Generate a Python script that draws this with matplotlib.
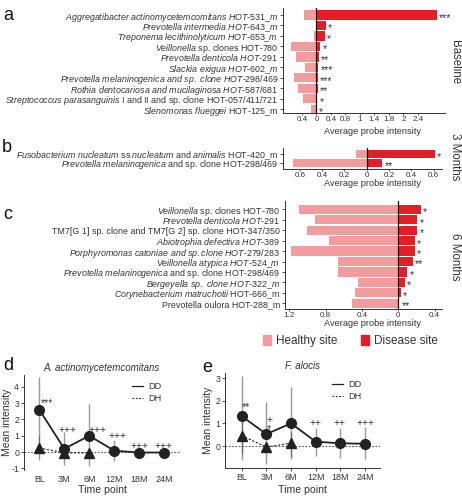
import matplotlib
matplotlib.use("Agg")
import matplotlib.pyplot as plt
from matplotlib.lines import Line2D
from matplotlib.patches import Patch
import numpy as np

plt.rcParams["font.family"] = ["Liberation Sans", "DejaVu Sans"]
plt.rcParams["mathtext.fontset"] = "custom"
plt.rcParams["mathtext.rm"] = "Liberation Sans"
plt.rcParams["mathtext.it"] = "Liberation Sans:italic"
plt.rcParams["mathtext.bf"] = "Liberation Sans:bold"

W, H = 462, 500
PINK = "#F39C9E"
RED = "#E31E26"
TXT = "#333333"

# ---- panel a : baseline
a_labels = ["*Aggregatibacter actinomycetemcomitans HOT-531_m*",
            "*Prevotella intermedia HOT-643_m*",
            "*Treponema lecithinolyticum HOT-653_m*",
            "*Veillonella* sp. clones HOT-780",
            "*Prevotella denticola HOT-291*",
            "*Slackia exigua HOT-602_m*",
            "*Prevotella melaninogenica and sp. clone HOT-298/469*",
            "*Rothia dentocariosa and mucilaginosa HOT-587/681*",
            "*Streptococcus parasanguinis* I and II and sp. clone HOT-057/411/721",
            "*Slenomonas flueggei* HOT-125_m"]
a_healthy = [-0.35, -0.01, -0.07, -0.71, -0.57, -0.32, -0.61, -0.51, -0.37, -0.16]
a_disease = [3.33, 0.25, 0.23, 0.11, 0.07, 0.05, 0.04, 0.03, 0.02, 0.01]
a_stars = ["***", "*", "*", "*", "**", "***", "***", "**", "*", "*"]
a_ticks = [-0.4, 0, 0.4, 0.8, 1.2, 1.6, 2.0, 2.4, 2.8]
a_ticklabels = ["0.4", "0", "0.4", "0.8", "1", "1.4", "1.8", "2", "2.4"]

# ---- panel b : 3 months
b_labels = ["*Fusobacterium nucleatum* ss *nucleatum* and *animalis* HOT-420_m",
            "*Prevotella melaninogenica* and sp. clone HOT-298/469"]
b_healthy = [-0.10, -0.66]
b_disease = [0.61, 0.14]
b_stars = ["*", "**"]
b_ticks = [-0.6, -0.4, -0.2, 0, 0.2, 0.4, 0.6]
b_ticklabels = ["0.6", "0.4", "0.2", "0", "0.2", "0.4", "0.6"]

# ---- panel c : 6 months
c_labels = ["*Veillonella* sp. clones HOT-780",
            "*Prevotella denticola HOT-291*",
            "TM7[G 1] sp. clone and TM7[G 2] sp. clone HOT-347/350",
            "*Abiotrophia defectiva HOT-389*",
            "*Porphyromonas catoniae and sp.clone HOT-279/283*",
            "*Veillonella atypica HOT-524_m*",
            "*Prevotella melaninogenica* and sp. clone HOT-298/469",
            "*Bergeyella sp. clone HOT-322_m*",
            "*Corynebacterium matruchotii* HOT-666_m",
            "Prevotella oulora HOT-288_m"]
c_healthy = [-1.09, -0.92, -1.01, -0.76, -1.18, -0.67, -0.67, -0.44, -0.48, -0.51]
c_disease = [0.25, 0.21, 0.21, 0.18, 0.18, 0.16, 0.10, 0.07, 0.03, 0.01]
c_stars = ["*", "*", "*", "*", "*", "**", "*", "*", "*", "**"]
c_ticks = [-1.2, -0.8, -0.4, 0, 0.4]
c_ticklabels = ["1.2", "0.8", "0.4", "0", "0.4"]

# ---- panels d, e : time course
timepoints = ["BL", "3M", "6M", "12M", "18M", "24M"]

d_dd = [2.6, 0.2, 1.0, 0.08, -0.03, -0.03]
d_dd_lo = [-0.5, -0.8, -0.85, -0.55, -0.03, -0.03]
d_dd_hi = [4.6, 1.25, 2.95, 0.75, -0.03, -0.03]
d_dh = [0.25, -0.05, -0.05]
d_dh_lo = [0.25, -0.05, -0.05]
d_dh_hi = [1.0, -0.05, -0.05]
d_marks = ["***", "+++", "+++", "+++", "+++", "+++"]
d_mark_x = [0.3, 1.12, 2.32, 3.14, 4.0, 4.96]
d_mark_y = [2.99, 1.35, 1.35, 0.96, 0.4, 0.4]

e_dd = [1.32, 0.53, 1.0, 0.19, 0.12, 0.1]
e_dd_lo = [-0.6, -0.8, -0.56, -0.43, -0.52, -0.57]
e_dd_hi = [3.1, 1.93, 2.6, 0.78, 0.8, 0.85]
e_dh = [0.46, -0.05, 0.13]
e_dh_lo = [-0.35, -0.05, -0.5]
e_dh_hi = [1.4, -0.05, 0.63]
e_marks = ["**", "+", "*", "++", "++", "+++"]
e_mark_x = [0.16, 1.12, 1.08, 3.0, 3.98, 5.0]
e_mark_y = [1.74, 1.13, 0.74, 1.0, 1.0, 1.0]


def box(l, t, r, b):
    return fig.add_axes([l / W, 1 - b / H, (r - l) / W, (b - t) / H])


def pt(x, y):
    return (x / W, 1 - y / H)


def rich(s):
    out = ""
    for i, seg in enumerate(s.split("*")):
        if i % 2 == 0:
            out += seg
        else:
            parts = []
            for p in seg.split("-"):
                p = p.replace(" ", r"\ ").replace("_", r"\_")
                parts.append(r"$\mathit{" + p + "}$" if p else "")
            out += "-".join(parts)
    return out


def style(ax):
    for s in ["top", "right"]:
        ax.spines[s].set_visible(False)
    for s in ["left", "bottom"]:
        ax.spines[s].set_color(TXT)
        ax.spines[s].set_linewidth(0.7)
    ax.tick_params(length=2, width=0.6, color=TXT, labelcolor=TXT, pad=1.5)
    ax.tick_params(axis="x", length=1.5, pad=1)


def bars(ax, labels, healthy, disease, stars, ticks, ticklabels, xlim, ylim):
    y = np.arange(len(labels))
    ax.barh(y, healthy, height=0.88, color=PINK)
    ax.barh(y, disease, height=0.88, color=RED)
    ax.axvline(0, color="#1a0000", lw=0.9)
    for yi, d, s in zip(y, disease, stars):
        ax.annotate(s, (max(d, 0), yi), xytext=(1.5, -2.2), textcoords="offset points",
                    va="center", ha="left", fontsize=7.5, color=TXT)
    ax.set_yticks(y, [rich(l) for l in labels], fontsize=6.4)
    ax.set_xticks(ticks, ticklabels, fontsize=5.8)
    ax.set_xlim(*xlim)
    ax.set_ylim(*ylim)
    style(ax)


def course(ax, dd, dd_lo, dd_hi, dh, dh_lo, dh_hi, marks, mx, my, yticks, xlim, ylim,
           xlab_y, ylab_x):
    x = np.arange(len(timepoints))
    xh = x[:len(dh)]
    ax.axhline(0, color="#555555", lw=0.8, ls=(0, (1.5, 1.5)), zorder=1)
    ax.vlines(x, dd_lo, dd_hi, color="#444444", alpha=0.55, lw=1.0, zorder=2)
    ax.vlines(xh, dh_lo, dh_hi, color="#444444", alpha=0.55, lw=1.0, zorder=2)
    ax.plot(xh, dh, color="#222222", lw=0.8, ls=(0, (2, 1.5)), marker="^", ms=7.5,
            mfc="#222222", mec="#222222", zorder=3)
    ax.plot(x, dd, color="#222222", lw=1.3, marker="o", ms=7,
            mfc="#222222", mec="#222222", zorder=4)
    for m, xx, yy in zip(marks, mx, my):
        ax.text(xx, yy, m, ha="center", va="center", fontsize=7.5, color=TXT)
    ax.set_xticks(x, timepoints, fontsize=6.4)
    ax.set_yticks(yticks, [str(v) for v in yticks], fontsize=6.3)
    ax.set_xlim(*xlim)
    ax.set_ylim(*ylim)
    ax.set_xlabel("Time point", fontsize=7.6, color=TXT)
    ax.set_ylabel("Mean intensity", fontsize=7.5, color=TXT)
    ax.xaxis.set_label_coords(0.5, xlab_y)
    ax.yaxis.set_label_coords(ylab_x, 0.5)
    style(ax)
    ax.tick_params(axis="x", length=2, pad=1.5)
    handles = [Line2D([], [], color="#222222", lw=0.9),
               Line2D([], [], color="#222222", lw=0.8, ls=(0, (1.5, 1.5)))]
    ax.legend(handles, ["DD", "DH"], loc="upper left", bbox_to_anchor=(0.66, 0.97),
              frameon=False, fontsize=6.6, handlelength=1.2, handletextpad=0.6,
              labelspacing=0.3, borderpad=0, labelcolor=TXT)


fig = plt.figure(figsize=(W / 100, H / 100), dpi=100)

ax_a = box(283, 8, 445, 113)
bars(ax_a, a_labels, a_healthy, a_disease, a_stars, a_ticks, a_ticklabels,
     (-0.924, 3.545), (9.35, -0.668))

ax_b = box(283, 148, 442, 169)
bars(ax_b, b_labels, b_healthy, b_disease, b_stars, b_ticks, b_ticklabels,
     (-0.751, 0.675), (1.69, -0.645))

ax_c = box(285, 201, 442, 309)
bars(ax_c, c_labels, c_healthy, c_disease, c_stars, c_ticks, c_ticklabels,
     (-1.249, 0.481), (9.55, -0.8))

for yy in [131, 184, 324]:
    fig.text(*pt(372, yy), "Average probe intensity", ha="center", va="center",
             fontsize=6.6, color=TXT)
for txt, yy in [("Baseline", 62), ("3 Months", 157), ("6 Months", 257)]:
    fig.text(*pt(455, yy), txt, rotation=-90, ha="center", va="center",
             fontsize=8.3, color=TXT)

fig.legend([Patch(color=PINK), Patch(color=RED)], ["Healthy site", "Disease site"],
           loc="center left", bbox_to_anchor=pt(252, 341), ncol=2, frameon=False,
           fontsize=8.5, handlelength=0.7, handleheight=0.9, handletextpad=0.4,
           columnspacing=2.0, labelcolor=TXT)

ax_d = box(24, 375, 180, 470)
course(ax_d, d_dd, d_dd_lo, d_dd_hi, d_dh, d_dh_lo, d_dh_hi, d_marks, d_mark_x, d_mark_y,
       [-1, 0, 1, 2, 3, 4], (-0.612, 5.63), (-1.1, 4.72), -0.153, -0.077)
ax_d.spines["bottom"].set_visible(False)
ax_d.tick_params(axis="x", length=0, pad=3.5)
ax_d.set_title("A. actinomycetemcomitans", fontsize=7, style="italic", color=TXT, pad=3)

ax_e = box(225, 373, 380, 468)
course(ax_e, e_dd, e_dd_lo, e_dd_hi, e_dh, e_dh_lo, e_dh_hi, e_marks, e_mark_x, e_mark_y,
       [0, 1, 2, 3], (-0.676, 5.6), (-0.973, 3.23), -0.179, -0.077)
ax_e.set_title("F. alocis", fontsize=7, style="italic", color=TXT, pad=3)

for lt, xx, yy in [("a", 8, 15), ("b", 7, 147), ("c", 8, 215), ("d", 8, 365), ("e", 207, 368)]:
    fig.text(*pt(xx, yy), lt, ha="center", va="center", fontsize=13, color="#111111")

fig.savefig("out.png", dpi=100)
